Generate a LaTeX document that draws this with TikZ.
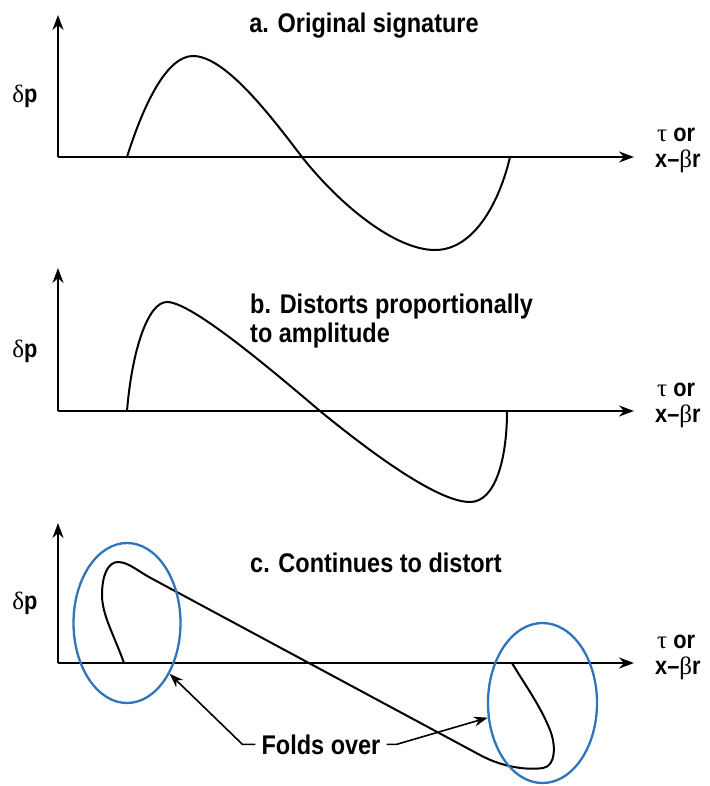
\documentclass[tikz,border=0pt]{standalone}
\usepackage{fontspec}
\setmainfont{Liberation Sans}[FakeStretch=0.87]
\newfontfamily\grkfont{Liberation Serif}
\usepackage{tikz}
\usetikzlibrary{arrows.meta,calc,positioning,shapes.geometric}
\definecolor{ringblue}{RGB}{46,117,186}
\tikzset{
    axisline/.style={line width=2pt,draw=black,-{Stealth[length=15pt,width=11pt]}},
    wave/.style={line width=2pt,draw=black},
    foldring/.style={ellipse,draw=ringblue,line width=2.3pt,inner sep=0pt},
    foldarrow/.style={line width=1.6pt,draw=black,-{Stealth[length=14pt,width=10pt]}},
    paneltitle/.style={font=\fontsize{27}{29}\selectfont\bfseries,inner sep=0pt},
    axlabel/.style={font=\fontsize{25}{27}\selectfont\bfseries,inner sep=0pt}
}
\newcommand{\dpname}{{\grkfont\mdseries δ}p}
\newcommand{\tauname}{{\grkfont\mdseries τ} or}
\newcommand{\xbrname}{x–{\grkfont\mdseries β}r}

\begin{document}
\begin{tikzpicture}[x=1pt,y=-1pt]
  \useasboundingbox (0,0) rectangle (709,786);

  % origins of the three panels
  \coordinate (oA) at (58,157);
  \coordinate (oB) at (58,411);
  \coordinate (oC) at (58,663);

  % axes
  \foreach \o/\top in {oA/15,oB/268,oC/523}{
    \draw[axisline] (\o) -- (58,\top);
    \draw[axisline] (\o) -- ($(\o)+(576,0)$);
  }

  % labels at the axes
  \node[axlabel,anchor=base] (dpA) at (25,103) {\dpname};
  \node[axlabel,anchor=base] (dpB) at (25,357) {\dpname};
  \node[axlabel,anchor=base] (dpC) at (25,609) {\dpname};
  \foreach \n/\y in {A/142,B/396,C/648}{
    \node[axlabel,anchor=base west] (tau\n) at (657,\y) {\tauname};
    \node[axlabel,anchor=base west] (xbr\n) at ($(tau\n.base west)+(-2,26)$) {\xbrname};
  }

  % titles
  \node[paneltitle,anchor=base] (titleA) at (364,33) {a. Original signature};
  \node[paneltitle,anchor=base west] (titleB) at (250,313) {b. Distorts proportionally};
  \node[paneltitle,anchor=base west] (titleBb) at ($(titleB.base west)+(0,29)$) {to amplitude};
  \node[paneltitle,anchor=base west] (titleC) at (250,572) {c. Continues to distort};

  % a. original
  \draw[wave] (127,157) .. controls (145,100) and (168,56) .. (193,56)
    .. controls (225,56) and (270,115) .. (302,157)
    .. controls (340,205) and (395,250) .. (435,250)
    .. controls (475,250) and (500,200) .. (510,157);

  % b. distorted
  \draw[wave] (127,411) .. controls (132,350) and (148,302) .. (167,302)
    .. controls (190,302) and (260,360) .. (320,411)
    .. controls (380,460) and (440,502) .. (470,502)
    .. controls (495,502) and (507,460) .. (507,411);

  % c. folded
  \draw[wave] (124,663) .. controls (114,635) and (102,615) .. (102,595)
    .. controls (102,575) and (108,562) .. (118,562)
    .. controls (128,562) and (138,571) .. (150,577.6)
    -- (480,755)
    .. controls (505,768.5) and (530,770) .. (543,768)
    .. controls (556,766) and (556,745) .. (550,730)
    .. controls (540,705) and (525,685) .. (512,663);

  \node[foldring,minimum width=107,minimum height=160] (foldL) at (127,623) {};
  \node[foldring,minimum width=109,minimum height=160] (foldR) at (542.5,703) {};

  \node[paneltitle,anchor=base,inner xsep=6pt] (folds) at (321,754) {Folds over};
  \draw[foldarrow] (folds.west) -- ++(-13,0) -- (foldL.-50);
  \draw[foldarrow] (folds.east) -- ++(10,0) -- (foldR.195);
\end{tikzpicture}
\end{document}
